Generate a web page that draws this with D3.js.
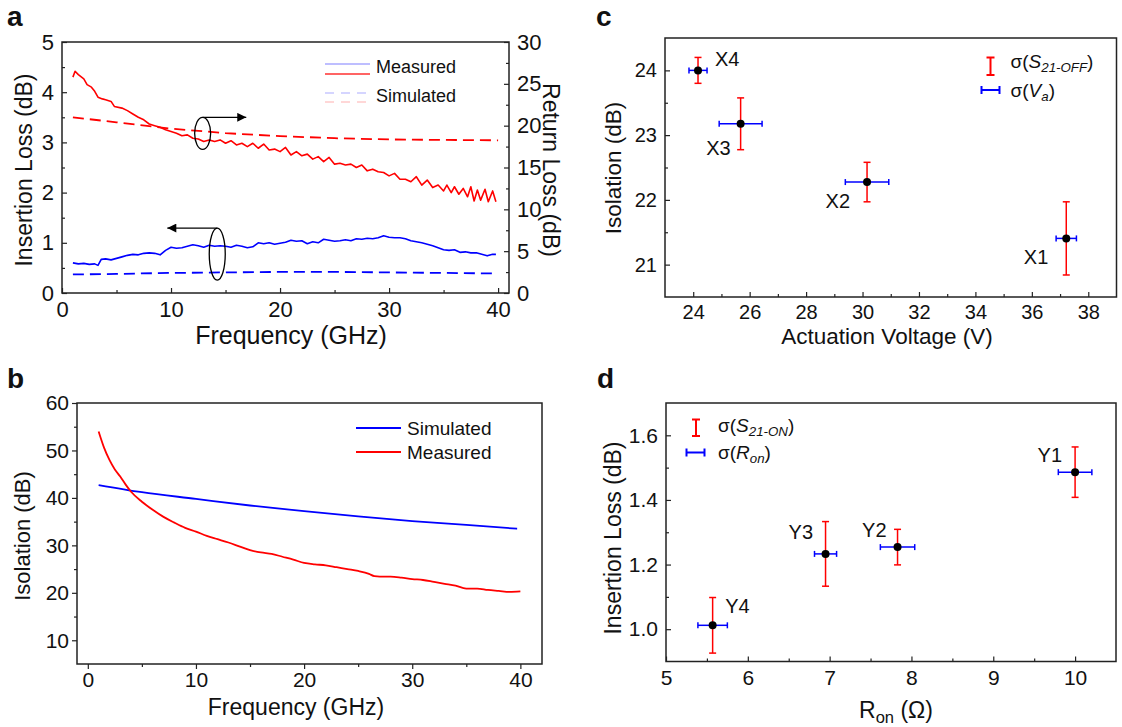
<!DOCTYPE html>
<html>
<head>
<meta charset="utf-8">
<script src="https://cdn.jsdelivr.net/npm/d3@7"></script>
<style>
  body { margin: 0; background: #fff; }
  svg { display: block; }
</style>
</head>
<body>
<div id="chart"></div>
<script>
const FONT = '"Liberation Sans", Arial, Helvetica, sans-serif'
const RED = '#ff0000'
const BLUE = '#0000ff'

// ---- panel a: insertion loss (left axis) / return loss (right axis)
const aMeasILFreq = [1, 1.5, 2, 2.5, 3, 3.3, 3.6, 4, 4.5, 5, 5.5, 6, 6.5, 7, 7.5, 8, 8.5, 9, 9.5, 10,
  10.5, 11, 11.5, 12, 12.5, 13, 13.5, 14, 14.5, 15, 15.5, 16, 16.5, 17, 17.5, 18, 18.5, 19, 19.5, 20,
  20.5, 21, 21.5, 22, 22.5, 23, 23.5, 24, 24.5, 25, 25.5, 26, 26.5, 27, 27.5, 28, 28.5, 29, 29.5, 30,
  30.5, 31, 31.5, 32, 32.5, 33, 33.5, 34, 34.5, 35, 35.5, 36, 36.5, 37, 37.5, 38, 38.5, 39, 39.5, 39.8]
const aMeasIL = [0.60, 0.58, 0.59, 0.57, 0.58, 0.55, 0.67, 0.68, 0.66, 0.69, 0.72, 0.75, 0.77, 0.76, 0.79, 0.80, 0.79, 0.76, 0.85, 0.91,
  0.89, 0.90, 0.93, 0.96, 0.94, 0.91, 0.95, 0.93, 0.94, 0.93, 0.91, 0.95, 0.93, 0.90, 0.92, 1.00, 0.98, 1.00, 0.97, 0.99,
  1.01, 1.05, 1.03, 1.04, 0.98, 1.02, 1.00, 1.07, 1.05, 1.03, 1.04, 1.06, 1.04, 1.08, 1.07, 1.09, 1.08, 1.10, 1.14, 1.11,
  1.10, 1.10, 1.08, 1.04, 1.02, 1.00, 0.97, 0.94, 0.90, 0.86, 0.85, 0.86, 0.81, 0.82, 0.80, 0.80, 0.77, 0.74, 0.77, 0.77]
const aSimILFreq = [1, 5, 10, 15, 20, 25, 30, 35, 39.5]
const aSimIL = [0.37, 0.38, 0.40, 0.41, 0.42, 0.42, 0.41, 0.40, 0.39]

const aMeasRLFreq = [1, 1.2, 1.5, 2, 2.3, 2.7, 3, 3.3, 3.7, 4, 4.5, 4.8, 5.5, 6, 6.5, 7, 7.5, 8, 8.5, 9, 9.5, 10,
  10.5, 11, 11.5, 12, 12.5, 13, 13.5, 14, 14.5, 15, 15.5, 16, 16.5, 17, 17.5, 18, 18.5, 19, 19.5, 20,
  20.5, 21, 21.5, 22, 22.5, 23, 23.5, 24, 24.5, 25, 25.5, 26, 26.5, 27, 27.5, 28, 28.5, 29, 29.5, 30,
  30.5, 31, 31.5, 32, 32.5, 33, 33.5, 34, 34.5, 35, 35.3, 35.7, 36, 36.4, 36.8, 37.2, 37.5, 37.8, 38.1,
  38.4, 38.8, 39.1, 39.5, 39.8]
const aMeasRL = [25.8, 26.5, 26.1, 25.6, 24.9, 24.6, 24.1, 23.4, 23.2, 23.1, 22.9, 22.3, 22.1, 21.8, 21.4, 21.0, 20.7, 20.2, 20.0, 19.8, 19.5, 19.3,
  19.1, 18.8, 18.9, 18.5, 18.4, 18.1, 18.3, 18.1, 18.3, 17.9, 18.2, 17.7, 17.9, 17.5, 17.9, 17.3, 17.8, 17.1, 17.2, 16.9,
  17.4, 16.5, 16.9, 16.4, 16.6, 16.0, 16.3, 15.7, 16.2, 15.4, 15.5, 15.3, 15.4, 15.0, 15.3, 14.6, 14.8, 14.5, 14.4, 14.0,
  14.3, 13.6, 13.6, 13.3, 13.9, 12.9, 13.5, 12.6, 12.9, 12.2, 12.9, 12.0, 12.7, 11.8, 12.5, 11.5, 12.7, 11.0, 12.3,
  11.1, 12.4, 10.9, 12.2, 10.9]
const aSimRLFreq = [1, 5, 10, 15, 20, 25, 30, 35, 40]
const aSimRL = [21.0, 20.4, 19.65, 19.1, 18.75, 18.5, 18.35, 18.3, 18.25]

const aLeftTicks = [0, 1, 2, 3, 4, 5]
const aRightTicks = [0, 5, 10, 15, 20, 25, 30]
const aFreqTicks = [0, 10, 20, 30, 40]

// ---- panel b: isolation
const bSimFreq = [1, 5, 10, 15, 20, 25, 30, 35, 39.7]
const bSimIso = [42.7, 41.2, 39.8, 38.4, 37.2, 36.1, 35.1, 34.3, 33.5]
const bMeasFreq = [1, 1.5, 2, 2.5, 3, 3.5, 4, 5, 6, 7, 8, 9, 10, 11, 12, 13, 14, 15, 16, 17, 18, 19, 20,
  21, 22, 23, 24, 25, 26, 26.5, 27, 28, 29, 30, 31, 32, 33, 34, 35, 36, 37, 38, 39, 40]
const bMeasIso = [54, 50.6, 48.0, 46.0, 44.5, 42.8, 41.3, 39.2, 37.5, 36.0, 34.8, 33.7, 32.9, 32.0, 31.3, 30.6, 29.8, 29.0, 28.5, 28.2, 27.6, 27.0, 26.3,
  26.0, 25.8, 25.4, 25.0, 24.6, 24.0, 23.5, 23.4, 23.4, 23.2, 22.9, 22.7, 22.3, 21.9, 21.5, 20.9, 20.9, 20.6, 20.4, 20.2, 20.3]
const bIsoTicks = [10, 20, 30, 40, 50, 60]
const bFreqTicks = [0, 10, 20, 30, 40]

// ---- panel c: isolation vs actuation voltage
const cLabels = ['X4', 'X3', 'X2', 'X1']
const cVoltage = [24.17, 25.68, 30.16, 37.22]
const cVoltageErr = [0.32, 0.76, 0.77, 0.36]
const cIsolation = [24.0, 23.175, 22.275, 21.405]
const cIsolationErr = [0.2, 0.4, 0.305, 0.565]
const cVoltTicks = [24, 26, 28, 30, 32, 34, 36, 38]
const cIsoTicks = [21, 22, 23, 24]

// ---- panel d: insertion loss vs Ron
const dLabels = ['Y4', 'Y3', 'Y2', 'Y1']
const dRon = [5.57, 6.95, 7.83, 10.0]
const dRonErr = [0.18, 0.135, 0.21, 0.205]
const dLoss = [1.012, 1.233, 1.254, 1.486]
const dLossErr = [0.086, 0.1, 0.055, 0.078]
const dRonTicks = [5, 6, 7, 8, 9, 10]
const dLossTicks = [1.0, 1.2, 1.4, 1.6]

const svg = d3
  .select('#chart')
  .append('svg')
  .attr('width', 1122)
  .attr('height', 727)
  .style('background', '#fff')

function styleAxis(g, fontSize) {
  g.attr('color', '#222')
  g.select('.domain').remove()
  g.selectAll('line').attr('stroke-width', 1.2)
  g.selectAll('text')
    .attr('font-family', FONT)
    .attr('font-size', fontSize)
    .attr('fill', '#111')
}

function drawFrame(box) {
  svg
    .append('rect')
    .attr('x', box.x0)
    .attr('y', box.y0)
    .attr('width', box.x1 - box.x0)
    .attr('height', box.y1 - box.y0)
    .attr('fill', 'none')
    .attr('stroke', '#222')
    .attr('stroke-width', 1.5)
}

function drawAxis(axisFn, scale, at, ticks, minors, opt) {
  const major = opt.inward ? -5 : 5
  const minor = opt.inward ? -3 : 3
  const translate = opt.vertical ? `translate(${at},0)` : `translate(0,${at})`

  svg
    .append('g')
    .attr('transform', translate)
    .call(axisFn(scale).tickValues(minors).tickSize(minor).tickFormat(''))
    .call(g => styleAxis(g, opt.fontSize))

  svg
    .append('g')
    .attr('transform', translate)
    .call(
      axisFn(scale)
        .tickValues(ticks)
        .tickSize(major)
        .tickPadding(opt.padding)
        .tickFormat(opt.format || d3.format('d')),
    )
    .call(g => styleAxis(g, opt.fontSize))
}

function addText(x, y, str, size, opt = {}) {
  const t = svg
    .append('text')
    .attr('x', x)
    .attr('y', y)
    .attr('font-family', FONT)
    .attr('font-size', size)
    .attr('fill', '#111')
    .attr('text-anchor', opt.anchor || 'start')
    .attr('font-weight', opt.bold ? 'bold' : null)
  if (opt.rotate) t.attr('transform', `rotate(${opt.rotate},${x},${y})`)
  t.text(str)
  return t
}

// sigma(X_sub) style legend text
function sigmaText(x, y, main, sub) {
  const t = addText(x, y, '', 19)
  t.append('tspan').text('σ(')
  t.append('tspan').attr('font-style', 'italic').text(main)
  t.append('tspan').attr('font-style', 'italic').attr('font-size', '0.7em').attr('dy', '0.3em').text(sub)
  t.append('tspan').attr('dy', '-0.21em').text(')')
}

function range(a, b, step) {
  return d3.range(a, b + step / 2, step).map(v => Math.round(v * 100) / 100)
}

// ============ panel a
const boxA = { x0: 62, x1: 509, y0: 42, y1: 293 }
const xA = d3.scaleLinear().domain([0, 41]).range([boxA.x0, boxA.x1])
const yAL = d3.scaleLinear().domain([0, 5]).range([boxA.y1, boxA.y0])
const yAR = d3.scaleLinear().domain([0, 30]).range([boxA.y1, boxA.y0])

drawAxis(d3.axisBottom, xA, boxA.y1, aFreqTicks, range(5, 35, 10), { inward: true, padding: 8, fontSize: 22 })
drawAxis(d3.axisLeft, yAL, boxA.x0, aLeftTicks, range(0.5, 4.5, 1), { inward: true, padding: 8, fontSize: 22, vertical: true })
drawAxis(d3.axisRight, yAR, boxA.x1, aRightTicks, range(2.5, 27.5, 5), { inward: true, padding: 8, fontSize: 22, vertical: true })

const lineA = (xs, ys, yScale) =>
  d3.line().x((d, i) => xA(xs[i])).y(d => yScale(d))(ys)

svg.append('path').attr('d', lineA(aSimILFreq, aSimIL, yAL))
  .attr('fill', 'none').attr('stroke', BLUE).attr('stroke-width', 1.8).attr('stroke-dasharray', '11,6')
svg.append('path').attr('d', lineA(aSimRLFreq, aSimRL, yAR))
  .attr('fill', 'none').attr('stroke', RED).attr('stroke-width', 1.8).attr('stroke-dasharray', '11,6')
svg.append('path').attr('d', lineA(aMeasILFreq, aMeasIL, yAL))
  .attr('fill', 'none').attr('stroke', BLUE).attr('stroke-width', 1.6).attr('stroke-linejoin', 'round')
svg.append('path').attr('d', lineA(aMeasRLFreq, aMeasRL, yAR))
  .attr('fill', 'none').attr('stroke', RED).attr('stroke-width', 1.6).attr('stroke-linejoin', 'round')

drawFrame(boxA)

// arrows + ellipses
svg.append('defs').append('marker')
  .attr('id', 'arrowhead')
  .attr('viewBox', '0 0 10 10')
  .attr('refX', 10).attr('refY', 5)
  .attr('markerWidth', 14).attr('markerHeight', 9)
  .attr('markerUnits', 'userSpaceOnUse')
  .attr('orient', 'auto')
  .append('path').attr('d', 'M0,0L10,5L0,10Z').attr('fill', '#000')

function ellipseArrow(cxv, cyv, yScale, rx, ry, toX) {
  const cx = xA(cxv)
  const cy = yScale(cyv)
  svg.append('ellipse').attr('cx', cx).attr('cy', cy).attr('rx', rx).attr('ry', ry)
    .attr('fill', 'none').attr('stroke', '#000').attr('stroke-width', 1.3)
  svg.append('line').attr('x1', cx).attr('y1', cy - ry).attr('x2', xA(toX)).attr('y2', cy - ry)
    .attr('stroke', '#000').attr('stroke-width', 1.3).attr('marker-end', 'url(#arrowhead)')
}
ellipseArrow(12.9, 3.18, yAL, 8, 16, 16.9)
ellipseArrow(14.24, 0.775, yAL, 8, 26, 9.66)

// legend a
const legA = [
  { y: 64, color: '#a9a9ff', dash: null },
  { y: 74, color: '#ff3030', dash: null },
  { y: 93, color: '#c8c8ff', dash: '9,7' },
  { y: 102, color: '#ffcaca', dash: '9,7' },
]
legA.forEach(l => {
  svg.append('line').attr('x1', 325).attr('x2', 370).attr('y1', l.y).attr('y2', l.y)
    .attr('stroke', l.color).attr('stroke-width', 1.5).attr('stroke-dasharray', l.dash)
})
addText(376, 73, 'Measured', 18)
addText(376, 102, 'Simulated', 18)

addText(32, 170, 'Insertion Loss (dB)', 23, { anchor: 'middle', rotate: -90 })
addText(543, 170, 'Return Loss (dB)', 23, { anchor: 'middle', rotate: 90 })
addText(291, 344, 'Frequency (GHz)', 25, { anchor: 'middle' })
addText(7, 26, 'a', 28, { bold: true })

// ============ panel b
const boxB = { x0: 77, x1: 542, y0: 403, y1: 664 }
const xB = d3.scaleLinear().domain([-1, 42]).range([boxB.x0, boxB.x1])
const yB = d3.scaleLinear().domain([5, 60]).range([boxB.y1, boxB.y0])

drawAxis(d3.axisBottom, xB, boxB.y1, bFreqTicks, range(5, 35, 10), { inward: false, padding: 3, fontSize: 21 })
drawAxis(d3.axisLeft, yB, boxB.x0, bIsoTicks, range(15, 55, 10), { inward: false, padding: 3, fontSize: 21, vertical: true })

const lineB = (xs, ys) =>
  d3.line().curve(d3.curveMonotoneX).x((d, i) => xB(xs[i])).y(d => yB(d))(ys)

svg.append('path').attr('d', lineB(bSimFreq, bSimIso))
  .attr('fill', 'none').attr('stroke', BLUE).attr('stroke-width', 1.8)
svg.append('path').attr('d', lineB(bMeasFreq, bMeasIso))
  .attr('fill', 'none').attr('stroke', RED).attr('stroke-width', 1.8)

drawFrame(boxB)

svg.append('line').attr('x1', 356).attr('x2', 401).attr('y1', 428).attr('y2', 428)
  .attr('stroke', BLUE).attr('stroke-width', 1.8)
svg.append('line').attr('x1', 356).attr('x2', 401).attr('y1', 452).attr('y2', 452)
  .attr('stroke', RED).attr('stroke-width', 1.8)
addText(407, 435, 'Simulated', 19)
addText(407, 459, 'Measured', 19)

addText(30, 536, 'Isolation (dB)', 22, { anchor: 'middle', rotate: -90 })
addText(296, 715, 'Frequency (GHz)', 23, { anchor: 'middle' })
addText(7, 388, 'b', 28, { bold: true })

// ============ error bar helper
function errorPoints(x, y, xs, xe, ys, ye) {
  xs.forEach((xv, i) => {
    const cx = x(xv)
    const cy = y(ys[i])
    const y0 = y(ys[i] - ye[i])
    const y1 = y(ys[i] + ye[i])
    const x0 = x(xv - xe[i])
    const x1 = x(xv + xe[i])
    const g = svg.append('g').attr('stroke-width', 1.5)
    g.append('line').attr('x1', cx).attr('x2', cx).attr('y1', y0).attr('y2', y1).attr('stroke', RED)
    g.append('line').attr('x1', cx - 3.5).attr('x2', cx + 3.5).attr('y1', y0).attr('y2', y0).attr('stroke', RED)
    g.append('line').attr('x1', cx - 3.5).attr('x2', cx + 3.5).attr('y1', y1).attr('y2', y1).attr('stroke', RED)
    g.append('line').attr('x1', x0).attr('x2', x1).attr('y1', cy).attr('y2', cy).attr('stroke', BLUE)
    g.append('line').attr('x1', x0).attr('x2', x0).attr('y1', cy - 3).attr('y2', cy + 3).attr('stroke', BLUE)
    g.append('line').attr('x1', x1).attr('x2', x1).attr('y1', cy - 3).attr('y2', cy + 3).attr('stroke', BLUE)
    g.append('circle').attr('cx', cx).attr('cy', cy).attr('r', 4).attr('fill', '#000').attr('stroke', 'none')
  })
}

function legendBars(xRed, yRed0, yRed1, xBlue0, xBlue1, yBlue) {
  const g = svg.append('g').attr('stroke-width', 2)
  g.append('line').attr('x1', xRed).attr('x2', xRed).attr('y1', yRed0).attr('y2', yRed1).attr('stroke', RED)
  g.append('line').attr('x1', xRed - 4).attr('x2', xRed + 4).attr('y1', yRed0).attr('y2', yRed0).attr('stroke', RED)
  g.append('line').attr('x1', xRed - 4).attr('x2', xRed + 4).attr('y1', yRed1).attr('y2', yRed1).attr('stroke', RED)
  g.append('line').attr('x1', xBlue0).attr('x2', xBlue1).attr('y1', yBlue).attr('y2', yBlue).attr('stroke', BLUE)
  g.append('line').attr('x1', xBlue0).attr('x2', xBlue0).attr('y1', yBlue - 4).attr('y2', yBlue + 4).attr('stroke', BLUE)
  g.append('line').attr('x1', xBlue1).attr('x2', xBlue1).attr('y1', yBlue - 4).attr('y2', yBlue + 4).attr('stroke', BLUE)
}

// ============ panel c
const boxC = { x0: 665, x1: 1116.5, y0: 38, y1: 297 }
const xC = d3.scaleLinear().domain([23, 39]).range([boxC.x0, boxC.x1])
const yC = d3.scaleLinear().domain([20.5, 24.5]).range([boxC.y1, boxC.y0])

drawAxis(d3.axisBottom, xC, boxC.y1, cVoltTicks, range(25, 37, 2), { inward: true, padding: 8, fontSize: 20 })
drawAxis(d3.axisLeft, yC, boxC.x0, cIsoTicks, range(21.5, 23.5, 1), { inward: true, padding: 8, fontSize: 20, vertical: true })

drawFrame(boxC)
errorPoints(xC, yC, cVoltage, cVoltageErr, cIsolation, cIsolationErr)

const cLabelPos = [
  { dx: 17, dy: -4, anchor: 'start' },
  { dx: -10, dy: 31, anchor: 'end' },
  { dx: -17, dy: 26, anchor: 'end' },
  { dx: -18, dy: 26, anchor: 'end' },
]
cLabels.forEach((lab, i) => {
  const p = cLabelPos[i]
  addText(xC(cVoltage[i]) + p.dx, yC(cIsolation[i]) + p.dy, lab, 20, { anchor: p.anchor })
})

legendBars(990.5, 57.5, 75, 981.5, 999.5, 90)
sigmaText(1010.5, 68, 'S', '21-OFF')
sigmaText(1010.5, 97, 'V', 'a')

addText(621, 168, 'Isolation (dB)', 22.5, { anchor: 'middle', rotate: -90 })
addText(887, 344, 'Actuation Voltage (V)', 22.5, { anchor: 'middle' })
addText(596, 26, 'c', 28, { bold: true })

// ============ panel d
const boxD = { x0: 666, x1: 1116, y0: 403, y1: 661.5 }
const xD = d3.scaleLinear().domain([5, 10.5]).range([boxD.x0, boxD.x1])
const yD = d3.scaleLinear().domain([0.9, 1.7]).range([boxD.y1, boxD.y0])

drawAxis(d3.axisBottom, xD, boxD.y1, dRonTicks, [5.5, 6.5, 7.5, 8.5, 9.5], { inward: true, padding: 9, fontSize: 21 })
drawAxis(d3.axisLeft, yD, boxD.x0, dLossTicks, [1.1, 1.3, 1.5], { inward: true, padding: 8, fontSize: 21, vertical: true, format: d3.format('.1f') })

drawFrame(boxD)
errorPoints(xD, yD, dRon, dRonErr, dLoss, dLossErr)

const dLabelPos = [
  { dx: 12.5, dy: -12, anchor: 'start' },
  { dx: -12.5, dy: -15, anchor: 'end' },
  { dx: -11, dy: -10, anchor: 'end' },
  { dx: -13, dy: -10, anchor: 'end' },
]
dLabels.forEach((lab, i) => {
  const p = dLabelPos[i]
  addText(xD(dRon[i]) + p.dx, yD(dLoss[i]) + p.dy, lab, 20, { anchor: p.anchor })
})

legendBars(696, 419.5, 436, 686.5, 704.5, 452.5)
sigmaText(718, 432, 'S', '21-ON')
sigmaText(718, 459, 'R', 'on')

addText(621, 538, 'Insertion Loss (dB)', 23, { anchor: 'middle', rotate: -90 })
{
  const t = addText(896, 718, '', 23, { anchor: 'middle' })
  t.append('tspan').text('R')
  t.append('tspan').attr('font-size', '0.72em').attr('dy', '0.3em').text('on')
  t.append('tspan').attr('dy', '-0.22em').text(' (Ω)')
}
addText(597, 388, 'd', 28, { bold: true })
</script>
</body>
</html>
